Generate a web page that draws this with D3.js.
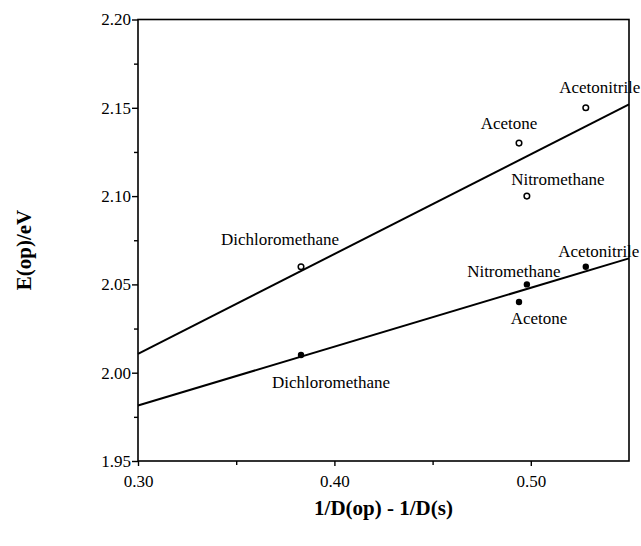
<!DOCTYPE html>
<html>
<head>
<meta charset="utf-8">
<script src="https://cdn.jsdelivr.net/npm/d3@7"></script>
<style>
  html, body { margin: 0; padding: 0; background: #fff; }
  svg { display: block; }
  text { font-family: "Liberation Serif", "Times New Roman", serif; fill: #000; }
</style>
</head>
<body>
<svg id="chart" width="641" height="546"></svg>
<script>
// ---- data ----
const solvents = ["Dichloromethane", "Acetone", "Nitromethane", "Acetonitrile"];
const xValues = [0.383, 0.494, 0.498, 0.528];      // 1/D(op) - 1/D(s)
const yOpen = [2.060, 2.130, 2.100, 2.150];        // open circles
const yFilled = [2.010, 2.040, 2.050, 2.060];      // filled circles
const xTicks = [0.30, 0.40, 0.50];
const xMinorTicks = [0.35, 0.45];
const yTicks = [1.95, 2.00, 2.05, 2.10, 2.15, 2.20];
const yMinorTicks = [1.975, 2.025, 2.075, 2.125, 2.175];
const xDomain = [0.30, 0.55];
const yDomain = [1.95, 2.20];
const xTitle = "1/D(op) - 1/D(s)";
const yTitle = "E(op)/eV";

// label placement offsets (pixels, relative to point): [dx, dy]
const openLabelOffsets = [[-21, -22], [-10, -14], [31, -11], [14, -15]];
const filledLabelOffsets = [[30, 33], [20, 22], [-13, -7], [13, -10]];

// ---- layout ----
const mLeft = 138, mRight = 629, mTop = 19.5, mBottom = 461;
const svg = d3.select("#chart");
const x = d3.scaleLinear().domain(xDomain).range([mLeft, mRight]);
const y = d3.scaleLinear().domain(yDomain).range([mBottom, mTop]);

// frame
svg.append("rect")
  .attr("x", mLeft).attr("y", mTop)
  .attr("width", mRight - mLeft).attr("height", mBottom - mTop)
  .attr("fill", "none").attr("stroke", "#000").attr("stroke-width", 1.6);

// axes
const fmt = d3.format(".2f");
const yAxis = d3.axisLeft(y).tickValues(yTicks).tickFormat(fmt).tickSize(6).tickPadding(1);
const xAxis = d3.axisBottom(x).tickValues(xTicks).tickFormat(fmt).tickSize(5).tickPadding(9);
const yMinor = d3.axisLeft(y).tickValues(yMinorTicks).tickFormat("").tickSize(4);
const xMinor = d3.axisBottom(x).tickValues(xMinorTicks).tickFormat("").tickSize(4);

function styleAxis(g) {
  g.select(".domain").remove();
  g.selectAll(".tick line").attr("stroke", "#000").attr("stroke-width", 1.4);
  g.selectAll(".tick text")
    .attr("font-family", "Liberation Serif, serif")
    .attr("font-size", 17).attr("fill", "#000");
}
svg.append("g").attr("transform", `translate(${mLeft},0)`).call(yAxis).call(styleAxis);
svg.append("g").attr("transform", `translate(${mLeft},0)`).call(yMinor).call(styleAxis);
svg.append("g").attr("transform", `translate(0,${mBottom})`).call(xAxis).call(styleAxis);
svg.append("g").attr("transform", `translate(0,${mBottom})`).call(xMinor).call(styleAxis);

// least-squares fit lines from data
function fit(xs, ys) {
  const mx = d3.mean(xs), my = d3.mean(ys);
  const sxy = d3.sum(xs, (v, i) => (v - mx) * (ys[i] - my));
  const sxx = d3.sum(xs, v => (v - mx) * (v - mx));
  const b = sxy / sxx, a = my - b * mx;
  return xDomain.map(v => [v, a + b * v]);
}
const line = d3.line().x(d => x(d[0])).y(d => y(d[1]));
[yOpen, yFilled].forEach(ys => {
  svg.append("path")
    .attr("d", line(fit(xValues, ys)))
    .attr("fill", "none").attr("stroke", "#000").attr("stroke-width", 2);
});

// points
const openData = solvents.map((s, i) => ({ name: s, x: xValues[i], y: yOpen[i], off: openLabelOffsets[i] }));
const filledData = solvents.map((s, i) => ({ name: s, x: xValues[i], y: yFilled[i], off: filledLabelOffsets[i] }));

svg.append("g").selectAll("circle").data(openData).join("circle")
  .attr("cx", d => x(d.x)).attr("cy", d => y(d.y)).attr("r", 2.8)
  .attr("fill", "#fff").attr("stroke", "#000").attr("stroke-width", 1.5);
svg.append("g").selectAll("circle").data(filledData).join("circle")
  .attr("cx", d => x(d.x)).attr("cy", d => y(d.y)).attr("r", 3.2)
  .attr("fill", "#000");

// labels
[openData, filledData].forEach(data => {
  svg.append("g").selectAll("text").data(data).join("text")
    .attr("x", d => x(d.x) + d.off[0]).attr("y", d => y(d.y) + d.off[1])
    .attr("text-anchor", "middle").attr("font-size", 17)
    .text(d => d.name);
});

// titles
svg.append("text")
  .attr("x", (mLeft + mRight) / 2).attr("y", 515)
  .attr("text-anchor", "middle").attr("font-size", 21).attr("font-weight", "bold")
  .text(xTitle);
svg.append("text")
  .attr("transform", "translate(31,250) rotate(-90)")
  .attr("text-anchor", "middle").attr("font-size", 21).attr("font-weight", "bold")
  .text(yTitle);
</script>
</body>
</html>
